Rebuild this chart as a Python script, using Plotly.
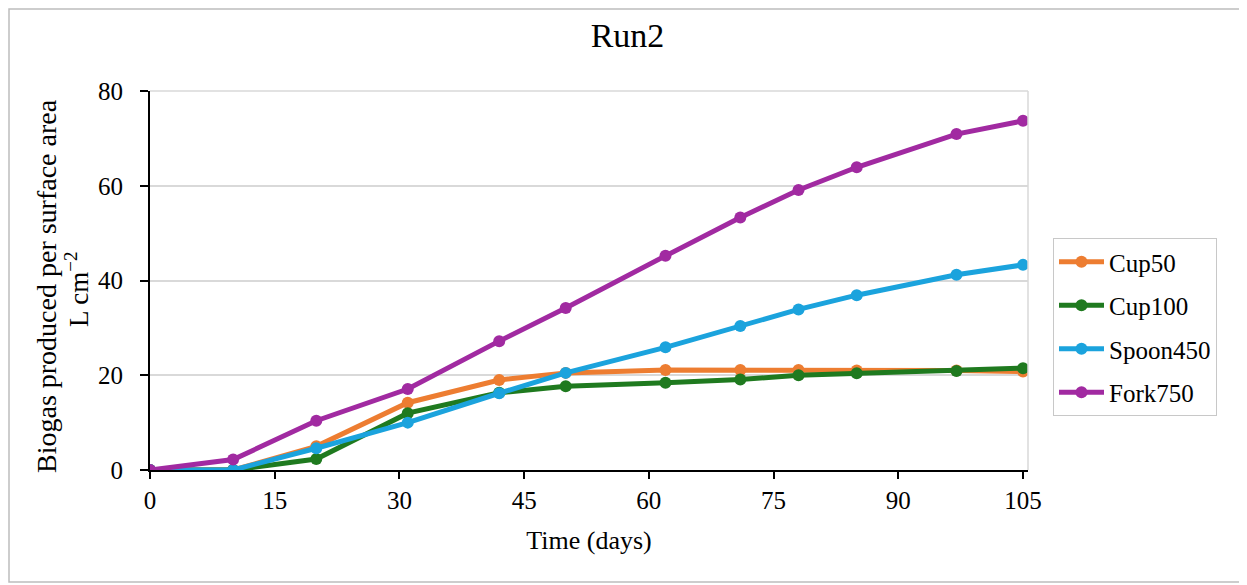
import plotly.graph_objects as go

days = [0, 10, 20, 31, 42, 50, 62, 71, 78, 85, 97, 105]
cup50 = [0, 0, 5.0, 14.2, 19.0, 20.5, 21.1, 21.1, 21.1, 21.0, 21.0, 20.8]
cup100 = [0, 0, 2.3, 12.0, 16.3, 17.7, 18.4, 19.1, 20.0, 20.4, 20.9, 21.5]
spoon450 = [0, 0, 4.6, 10.0, 16.2, 20.5, 25.9, 30.4, 33.9, 36.9, 41.2, 43.3]
fork750 = [0, 2.2, 10.4, 17.1, 27.2, 34.2, 45.2, 53.3, 59.1, 63.9, 70.9, 73.7]

series = [
    ("Cup50", cup50, "#ED7D31"),
    ("Cup100", cup100, "#1F7A1F"),
    ("Spoon450", spoon450, "#1BA3DD"),
    ("Fork750", fork750, "#A12AA1"),
]

FONT = "Liberation Serif, Times New Roman, serif"

# page body has an 8px margin; place the figure so the plot area lands at
# x 150..1028, y 91..470 of the window
W, H = 1239, 577
OFF = 8
L, R, T, B = 150 - OFF, 219, 91 - OFF, 115
PW = W - L - R
PH = H - T - B


def px_x(px):
    return (px - OFF - L) / PW


def px_y(py):
    return (H - B - (py - OFF)) / PH


fig = go.Figure()
for name, vals, col in series:
    fig.add_trace(go.Scatter(
        x=days, y=vals, name=name, mode="lines+markers", legendgroup=name,
        line=dict(color=col, width=5),
        marker=dict(color=col, size=12),
    ))

fig.update_layout(
    width=W, height=H,
    margin=dict(l=L, r=R, t=T, b=B, autoexpand=False),
    paper_bgcolor="white", plot_bgcolor="white",
    font=dict(family=FONT, size=24, color="black"),
    title=dict(text="Run2", x=0.5, xref="container", xanchor="center",
               yref="container", y=1 - (35 - OFF) / H, yanchor="middle",
               font=dict(family=FONT, size=34, color="black")),
    legend=dict(
        x=px_x(1053), xanchor="left", y=px_y(327), yanchor="middle",
        bordercolor="#c8c8c8", borderwidth=1,
        font=dict(family=FONT, size=25, color="black"),
        itemwidth=45, tracegroupgap=8,
    ),
    showlegend=True,
)

fig.update_xaxes(
    range=[0, 105.6], tickvals=[0, 15, 30, 45, 60, 75, 90, 105],
    showgrid=False, zeroline=False,
    showline=True, linecolor="black", linewidth=2,
    ticks="outside", ticklen=7, tickwidth=2, tickcolor="black",
    ticklabelstandoff=0,
    tickfont=dict(family=FONT, size=25),
    title=dict(text="Time (days)", font=dict(family=FONT, size=26), standoff=18),
)
fig.update_yaxes(
    range=[0, 80], tickvals=[0, 20, 40, 60, 80],
    showgrid=True, gridcolor="#d9d9d9", gridwidth=1.5, zeroline=False,
    showline=True, linecolor="black", linewidth=2,
    ticks="outside", ticklen=8, tickwidth=2, tickcolor="black",
    ticklabelstandoff=12,
    tickfont=dict(family=FONT, size=25),
)

# y axis title as two tightly spaced rotated lines
fig.add_annotation(text="Biogas produced per surface area", xref="paper", yref="paper",
                   x=px_x(46), y=px_y(286), textangle=-90, showarrow=False,
                   xanchor="center", yanchor="middle",
                   font=dict(family=FONT, size=28, color="black"))
fig.add_annotation(text="L cm<sup>−2</sup>", xref="paper", yref="paper",
                   x=px_x(77), y=px_y(290), textangle=-90, showarrow=False,
                   xanchor="center", yanchor="middle",
                   font=dict(family=FONT, size=27, color="black"))

# light frame on top and right of plot area
fig.add_shape(type="line", xref="paper", yref="paper", x0=0, x1=1, y0=1, y1=1,
              line=dict(color="#d9d9d9", width=1.5))
fig.add_shape(type="line", xref="paper", yref="paper", x0=1, x1=1, y0=0, y1=1,
              line=dict(color="#d9d9d9", width=1.5))
# outer chart border
fig.add_shape(type="rect", xref="paper", yref="paper",
              x0=px_x(9), x1=px_x(1243), y0=px_y(582), y1=px_y(9),
              line=dict(color="#bdbdbd", width=1.5), layer="below")

fig.write_html("out.html")
